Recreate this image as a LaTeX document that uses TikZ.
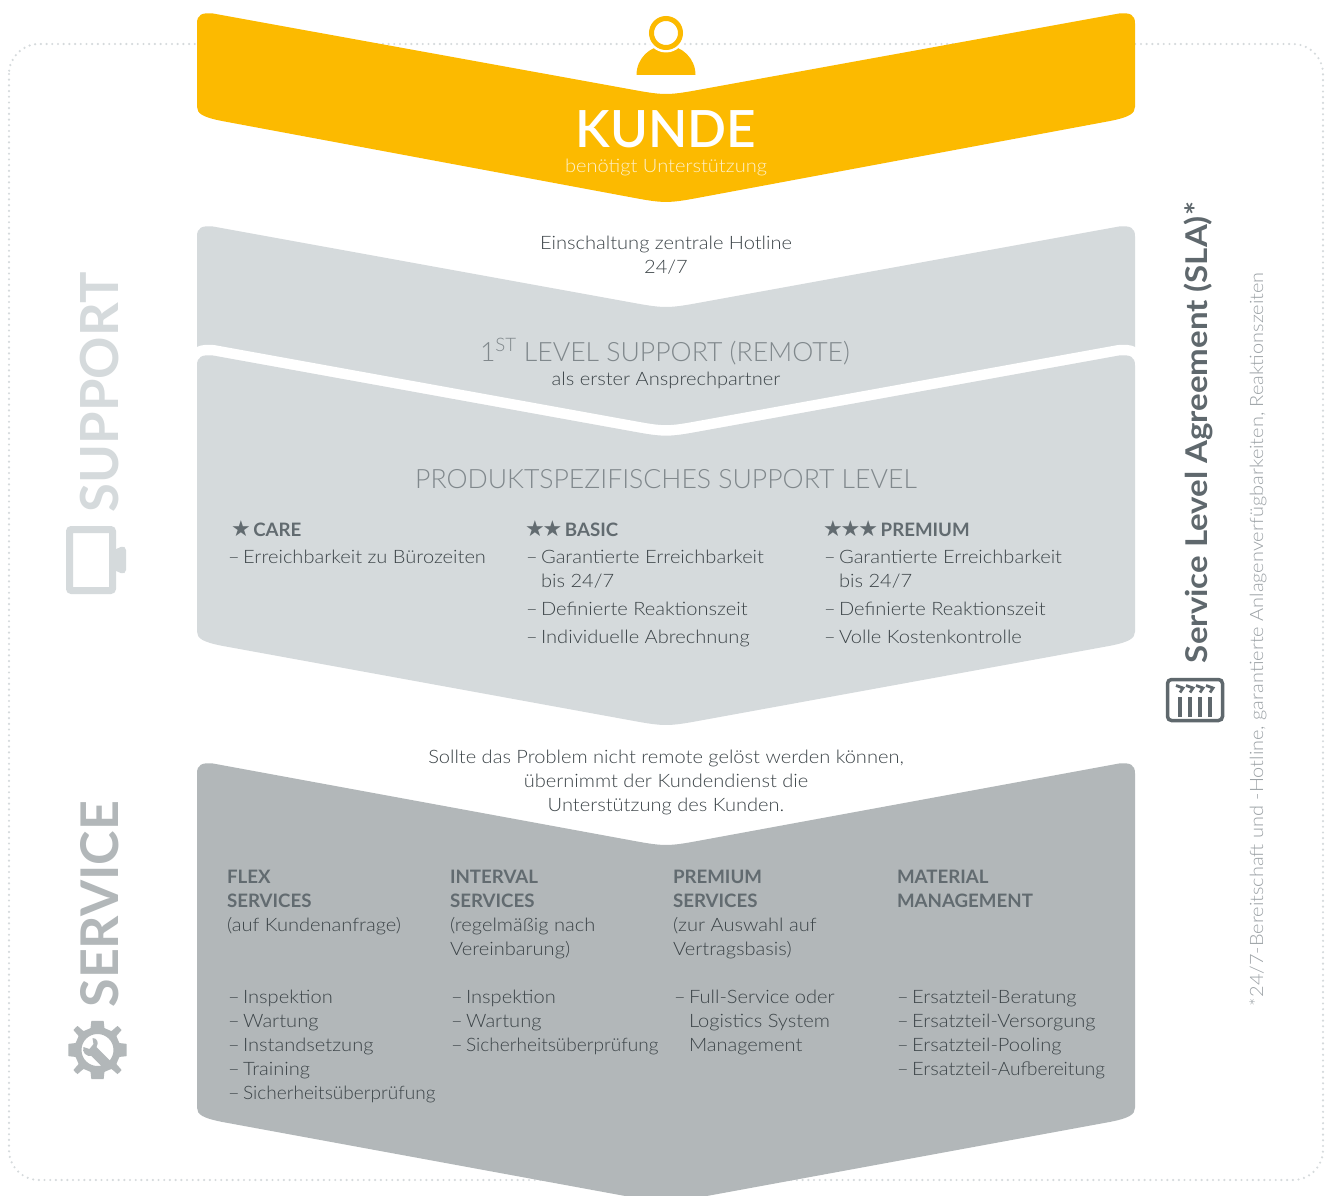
\documentclass[tikz,border=0pt]{standalone}
\usepackage{fontspec}
\setmainfont{Lato}[UprightFont=* Light,BoldFont=* Bold]
\newfontfamily\symf{DejaVu Sans}
\newfontfamily\medf{Lato Semibold}
\newfontfamily\wide{Lato}[UprightFont=* Light,BoldFont=* Bold,FakeStretch=1.085]
\newfontfamily\narr{Lato}[UprightFont=* Light,FakeStretch=1.03]
\newfontfamily\widebold{Lato}[UprightFont=* Bold,FakeStretch=1.1]
\newfontfamily\hdf{Lato}[UprightFont=* Bold,FakeStretch=1.01]
\definecolor{amber}{HTML}{FCBA00}
\definecolor{pale}{HTML}{D5DADC}
\definecolor{midg}{HTML}{B2B7B9}
\definecolor{dark}{HTML}{3C4448}
\definecolor{head}{HTML}{626B70}
\definecolor{soft}{HTML}{80888C}
\definecolor{side}{HTML}{5F686D}
\definecolor{sub}{HTML}{9BA1A5}
\newcounter{tn}
\tikzset{
 lbl/.style={inner sep=0pt,outer sep=0pt,anchor=base west,text=dark,font=\wide\fontsize{18.5}{24}\selectfont},
 ctr/.style={lbl,anchor=base},
 hd/.style={lbl,text=head,font=\hdf\fontsize{18.5}{24}\selectfont},
 headline/.style={ctr,text=soft,font=\normalfont\fontsize{26.6}{30}\selectfont},
 vert/.style={inner sep=0pt,outer sep=0pt,anchor=base west,rotate=90},
}
% #1 style, #2 top y at x=215, #3 notch y, #4 bottom y at x=215, #5 tip y
\newcommand{\chev}[5]{%
 \pgfmathsetmacro{\ta}{#2}\pgfmathsetmacro{\Lt}{#3+1.8}\pgfmathsetmacro{\bb}{#4}\pgfmathsetmacro{\Lb}{#5+1.8}%
 \pgfmathsetmacro{\tq}{\ta+10}\pgfmathsetmacro{\tr}{\ta+1}\pgfmathsetmacro{\ts}{\ta-1}%
 \pgfmathsetmacro{\td}{\ta+(\Lt-\ta)*0.93126}\pgfmathsetmacro{\te}{\ta+(\Lt-\ta)*0.99335}%
 \pgfmathsetmacro{\bq}{\bb-13}\pgfmathsetmacro{\br}{\bb-6}\pgfmathsetmacro{\bs}{\bb-2.5}\pgfmathsetmacro{\bt}{\bb+1.3}%
 \pgfmathsetmacro{\bd}{\bb+(\Lb-\bb)*0.93126}\pgfmathsetmacro{\be}{\bb+(\Lb-\bb)*0.99335}%
 \fill[#1] (197,\tq) .. controls (197,\tr) and (202,\ts) .. (213,\ta)
  -- (635,\td) .. controls (663,\te) and (669,\te) .. (697,\td)
  -- (1119,\ta) .. controls (1130,\ts) and (1135,\tr) .. (1135,\tq)
  -- (1135,\bq) .. controls (1135,\br) and (1129,\bs) .. (1110,\bt)
  -- (697,\bd) .. controls (669,\be) and (663,\be) .. (635,\bd)
  -- (222,\bt) .. controls (203,\bs) and (197,\br) .. (197,\bq) -- cycle;}
\newcommand{\tl}[4][lbl]{\stepcounter{tn}\node[#1] (t\arabic{tn}) at (#2,#3) {#4};}
\newcommand{\strs}[1]{{\symf\fontsize{22}{24}\selectfont\color{head}#1}}
\newcommand{\dd}{–\kern-2pt\ }
\begin{document}
\begin{tikzpicture}[x=1pt,y=-1pt]
\useasboundingbox (0,0) rectangle (1325,1196);
\fill[white] (0,0) rectangle (1325,1196);
% frame
\draw[pale,line width=2.4pt,line cap=round,dash pattern=on 0pt off 5.7pt,rounded corners=30pt] (9,44) rectangle (1323,1180);
% chevrons
\chev{amber}{13.5}{94}{119.7}{202}
\chev{pale}{226.5}{307}{380}{461}
\chev{pale,preaction={draw=white,line width=21pt}}{355.5}{435.7}{644.5}{725}
\chev{midg}{763.5}{845}{1120.6}{1201.7}
% person
\fill[amber] (636.5,75) arc[start angle=180,end angle=360,radius=29.5] -- cycle;
\fill[white] (666,33) circle (19.5);
\draw[amber,line width=5pt] (666,33) circle (14.5);
% KUNDE
\node[ctr,text=white,font=\medf\fontsize{51.3}{60}\selectfont] (kunde) at (666,148) {KUNDE};
\node[ctr,text=white!80!amber] (need) at (666,172) {benötigt Unterstützung};
% Hotline
\tl[ctr]{666}{249}{Einschaltung zentrale Hotline}
\tl[ctr]{666}{273}{24/7}
\tl[headline]{665}{361}{1\textsuperscript{ST} LEVEL SUPPORT (REMOTE)}
\tl[ctr]{666}{385}{als erster Ansprechpartner}
\tl[headline]{666}{488}{PRODUKTSPEZIFISCHES SUPPORT LEVEL}
% tiers
\tl[hd]{231}{536}{\strs{★}\kern-2pt\ CARE}
\tl{228}{563}{\dd Erreichbarkeit zu Bürozeiten}
\tl[hd]{525}{536}{\strs{★\kern-2pt★}\kern-2pt\ BASIC}
\tl{526}{563}{\dd Garantierte Erreichbarkeit}
\tl{541}{587}{bis 24/7}
\tl{526}{615}{\dd Definierte Reaktionszeit}
\tl{526}{643}{\dd Individuelle Abrechnung}
\tl[hd]{823}{536}{\strs{★\kern-2pt★\kern-2pt★}\kern-2pt\ PREMIUM}
\tl{824}{563}{\dd Garantierte Erreichbarkeit}
\tl{839}{587}{bis 24/7}
\tl{824}{615}{\dd Definierte Reaktionszeit}
\tl{824}{643}{\dd Volle Kostenkontrolle}
% transition
\tl[ctr]{666}{763}{Sollte das Problem nicht remote gelöst werden können,}
\tl[ctr]{666}{787}{übernimmt der Kundendienst die}
\tl[ctr]{666}{811}{Unterstützung des Kunden.}
% services
\tl[hd]{227}{883}{FLEX}
\tl[hd]{227}{907}{SERVICES}
\tl{227}{931}{(auf Kundenanfrage)}
\tl{228}{1003}{\dd Inspektion}
\tl{228}{1027}{\dd Wartung}
\tl{228}{1051}{\dd Instandsetzung}
\tl{228}{1075}{\dd Training}
\tl{228}{1099}{\dd {\narr Sicherheitsüberprüfung}}
\tl[hd]{450}{883}{INTERVAL}
\tl[hd]{450}{907}{SERVICES}
\tl{450}{931}{(regelmäßig nach}
\tl{450}{955}{Vereinbarung)}
\tl{451}{1003}{\dd Inspektion}
\tl{451}{1027}{\dd Wartung}
\tl{451}{1051}{\dd {\narr Sicherheitsüberprüfung}}
\tl[hd]{673}{883}{PREMIUM}
\tl[hd]{673}{907}{SERVICES}
\tl{673}{931}{(zur Auswahl auf}
\tl{673}{955}{Vertragsbasis)}
\tl{674}{1003}{\dd Full-Service oder}
\tl{689}{1027}{Logistics System}
\tl{689}{1051}{Management}
\tl[hd]{897}{883}{MATERIAL}
\tl[hd]{897}{907}{MANAGEMENT}
\tl{897}{1003}{\dd Ersatzteil-Beratung}
\tl{897}{1027}{\dd Ersatzteil-Versorgung}
\tl{897}{1051}{\dd Ersatzteil-Pooling}
\tl{897}{1075}{\dd Ersatzteil-{\narr Aufbereitung}}
% side labels
\node[vert,text=pale,font=\bfseries\fontsize{52.5}{60}\selectfont] (support) at (118.5,512) {SUPPORT};
\node[vert,text=midg,font=\bfseries\fontsize{52}{60}\selectfont] (service) at (118,1007.5) {SERVICE};
\node[vert,text=side,font=\widebold\fontsize{30}{32}\selectfont] (sla) at (1207,663) {Service Level Agreement (SLA)*};
\node[vert,text=sub,font=\wide\fontsize{18.4}{24}\selectfont] (slanote) at (1263,1006) {*24/7-Bereitschaft und -Hotline, garantierte Anlagenverfügbarkeiten, Reaktionszeiten};
% support icon
\draw[pale,line width=7pt,rounded corners=2pt] (69.5,529.5) rectangle (112.5,590.5);
\fill[pale,rounded corners=2pt] (114,550) -- (123,546) -- (126,548) -- (126,572) -- (123,574) -- (114,570) -- cycle;
% gear icon
\begin{scope}[shift={(97.5,1050)}]
 \fill[midg,even odd rule]
  plot[smooth cycle,tension=0.12] coordinates {
  (-6,-29) (6,-29) (7,-22) (14,-19) (20,-24) (24,-20) (19,-14) (22,-7) (29,-6) (29,6) (22,7) (19,14) (24,20) (20,24) (14,19) (7,22) (6,29) (-6,29) (-7,22) (-14,19) (-20,24) (-24,20) (-19,14) (-22,7) (-29,6) (-29,-6) (-22,-7) (-19,-14) (-24,-20) (-20,-24) (-14,-19) (-7,-22)}
  (0,0) circle (16);
 \fill[midg] (-5,-12) .. controls (-1,-12) and (2,-8) .. (-1,-3) -- (13,11) -- (7,19) -- (-6,6)
   .. controls (-11,7) and (-16,2) .. (-14,-3) -- (-8,-1) -- (-4,-6) -- cycle;
\end{scope}
% SLA icon
\draw[side,line width=3.5pt,rounded corners=4pt] (1167.5,679.5) rectangle (1222.5,720.5);
\foreach \x in {1180,1190,1200,1210} {
 \fill[side] (\x-2,697) rectangle (\x+2,717);
 \draw[side,line width=2.8pt] (\x-4,685.5) -- (\x+3,688) -- (\x,692.5);
}
\end{tikzpicture}
\end{document}
